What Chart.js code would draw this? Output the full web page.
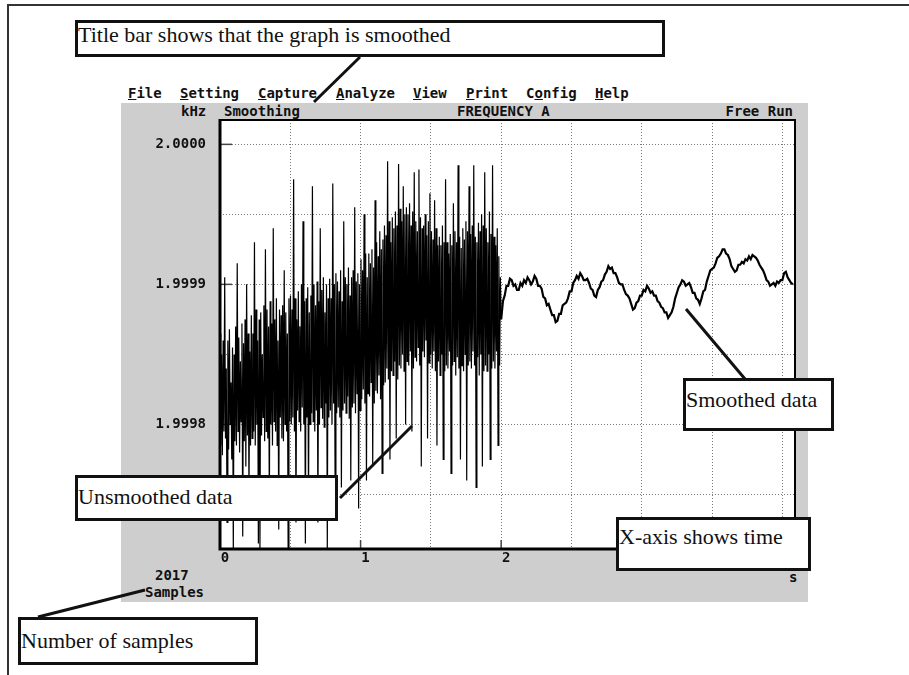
<!DOCTYPE html>
<html>
<head>
<meta charset="utf-8">
<script src="https://cdn.jsdelivr.net/npm/chart.js@4.4.1/dist/chart.umd.min.js"></script>
<style>
  body { margin: 0; background: #fff; }
  #page { position: relative; width: 909px; height: 675px; overflow: hidden; }
  .rule { position: absolute; background: #333; }
  #panel { position: absolute; left: 121px; top: 103px; width: 687px; height: 499px; background: #cecece; }
  .dos { position: absolute; font-family: 'DejaVu Sans Mono', monospace; font-size: 14px; line-height: 14px;
         font-weight: bold; color: #111; white-space: pre; }
  .u { text-decoration: underline; }
  canvas { position: absolute; left: 0; top: 0; }
  svg { position: absolute; left: 0; top: 0; }
  .note { position: absolute; background: #fff; border: 3px solid #111; box-sizing: border-box;
          font-family: 'Liberation Serif', 'Times New Roman', serif; font-size: 22px; line-height: 24px;
          color: #111; white-space: nowrap; }
</style>
</head>
<body>
<div id="page">
  <div class="rule" style="left:8px;top:4px;width:901px;height:2px"></div>
  <div class="rule" style="left:7px;top:4px;width:2px;height:671px"></div>
  <div id="panel"></div>

  <div class="dos" style="left:128px;top:86px"><span class="u">F</span>ile</div>
  <div class="dos" style="left:180px;top:86px"><span class="u">S</span>etting</div>
  <div class="dos" style="left:258px;top:86px"><span class="u">C</span>apture</div>
  <div class="dos" style="left:336px;top:86px"><span class="u">A</span>nalyze</div>
  <div class="dos" style="left:413px;top:86px"><span class="u">V</span>iew</div>
  <div class="dos" style="left:466px;top:86px"><span class="u">P</span>rint</div>
  <div class="dos" style="left:526px;top:86px">C<span class="u">o</span>nfig</div>
  <div class="dos" style="left:595px;top:86px"><span class="u">H</span>elp</div>

  <div class="dos" style="left:181px;top:104px">kHz</div>
  <div class="dos" style="left:224px;top:104px">Smoothing</div>
  <div class="dos" style="left:457px;top:104px">FREQUENCY A</div>
  <div class="dos" style="right:116px;top:104px">Free Run</div>

  <div class="dos" style="left:155px;top:568px">2017</div>
  <div class="dos" style="left:145px;top:585px">Samples</div>
  <div class="dos" style="left:789px;top:570px">s</div>

  <canvas id="scope" width="909" height="675"></canvas>

  <svg width="909" height="675">
    <g stroke="#111" stroke-width="3">
      <line x1="360" y1="57" x2="314" y2="102"/>
      <line x1="686" y1="309" x2="745" y2="379"/>
      <line x1="340" y1="498" x2="412" y2="426"/>
      <line x1="145" y1="590" x2="38" y2="617"/>
    </g>
  </svg>

  <div class="note" style="left:75px;top:20px;width:590px;height:37px">Title bar shows that the graph is smoothed</div>
  <div class="note" style="left:683px;top:378px;width:151px;height:53px;padding-top:7px">Smoothed data</div>
  <div class="note" style="left:75px;top:475px;width:263px;height:46px;padding-top:7px">Unsmoothed data</div>
  <div class="note" style="left:616px;top:517px;width:195px;height:54px;padding-top:5px">X-axis shows time</div>
  <div class="note" style="left:18px;top:617px;width:240px;height:48px;padding-top:9px">Number of samples</div>
</div>

<script>
// frequency readings, given as offset from 2 kHz in mHz (1 mHz = 0.000001 kHz)
const baseKHz = 2.0;

// raw readings, 0 s .. 2 s
const unsmoothedOffsetMilliHz = [
  -135, -215, -150, -222, -140, -205, -95, -210, -160, -270,
  -140, -218, -132, -200, -170, -225, -145, -290, -150, -212,
  -130, -215, -85, -205, -138, -220, -155, -198, -128, -280,
  -142, -212, -125, -230, -100, -208, -135, -250, -148, -215,
  -122, -210, -135, -205, -70, -215, -118, -200, -140, -285,
  -125, -290, -120, -208, -150, -195, -115, -212, -75, -205,
  -118, -210, -130, -260, -112, -200, -128, -215, -60, -198,
  -125, -205, -110, -215, -140, -275, -118, -195, -122, -210,
  -115, -212, -90, -200, -120, -205, -135, -290, -110, -198,
  -108, -200, -118, -195, -25, -205, -110, -270, -125, -190,
  -105, -198, -130, -205, -100, -188, -55, -200, -112, -285,
  -110, -195, -102, -260, -120, -200, -108, -192, -30, -198,
  -100, -205, -115, -190, -98, -270, -112, -200, -60, -188,
  -104, -196, -95, -202, -120, -185, -100, -290, -110, -195,
  -96, -190, -110, -200, -28, -185, -100, -250, -92, -192,
  -98, -188, -105, -195, -90, -245, -112, -190, -55, -185,
  -95, -192, -100, -180, -88, -196, -108, -240, -95, -188,
  -90, -185, -45, -192, -98, -178, -92, -260, -100, -190,
  -82, -182, -90, -175, -50, -185, -78, -240, -95, -178,
  -78, -180, -85, -170, -75, -230, -88, -185, -40, -176,
  -70, -178, -80, -165, -62, -182, -75, -235, -68, -172,
  -58, -170, -65, -160, -12, -168, -55, -225, -70, -162,
  -52, -165, -60, -155, -48, -210, -58, -168, -14, -158,
  -46, -160, -55, -150, -30, -162, -50, -200, -45, -155,
  -50, -158, -42, -148, -58, -205, -48, -160, -20, -152,
  -55, -155, -62, -145, -18, -158, -52, -230, -60, -148,
  -58, -152, -50, -140, -65, -210, -55, -156, -35, -150,
  -62, -160, -68, -148, -40, -162, -60, -215, -72, -155,
  -66, -165, -72, -150, -58, -225, -70, -162, -25, -158,
  -70, -160, -78, -148, -64, -235, -72, -158, -42, -155,
  -62, -165, -70, -152, -15, -160, -66, -225, -74, -158,
  -60, -162, -68, -150, -55, -240, -62, -158, -30, -155,
  -64, -160, -58, -148, -15, -158, -66, -245, -70, -152,
  -56, -165, -62, -150, -50, -230, -58, -162, -20, -158,
  -60, -162, -70, -150, -48, -225, -64, -160, -15, -155,
  -66, -160, -72, -148, -60, -215, -80, -158, -95, -125
];
const unsmoothedStart = 0;     // s
const unsmoothedEnd = 2;       // s

// smoothed readings from 2 s on, one every 12.5 ms
const smoothedStart = 2;       // s
const smoothedStep = 0.0125;   // s
const smoothedOffsetMilliHz = [
  -125, -112, -108, -101, -101, -96, -97, -101, -100, -104,
  -104, -99, -101, -97, -99, -95, -97, -100, -98, -94,
  -96, -101, -101, -103, -109, -110, -115, -114, -118, -122,
  -122, -127, -126, -121, -121, -115, -114, -113, -110, -105,
  -105, -99, -97, -94, -96, -92, -94, -97, -97, -96,
  -99, -103, -104, -108, -109, -104, -102, -98, -97, -93,
  -91, -87, -89, -88, -92, -92, -95, -99, -100, -100,
  -104, -107, -108, -110, -114, -118, -117, -113, -112, -108,
  -108, -104, -105, -101, -103, -106, -105, -108, -108, -112,
  -113, -116, -117, -120, -120, -124, -122, -120, -116, -110,
  -106, -102, -100, -97, -98, -101, -100, -99, -102, -106,
  -106, -110, -111, -114, -110, -105, -104, -98, -94, -90,
  -89, -88, -85, -81, -80, -78, -75, -75, -78, -79,
  -82, -87, -89, -91, -90, -86, -86, -84, -85, -82,
  -83, -80, -82, -79, -80, -81, -83, -86, -88, -90,
  -93, -97, -98, -101, -100, -99, -101, -98, -99, -97,
  -97, -92, -91, -95, -97, -99, -100
];

// axes
const xMaxSeconds = 4.09;
const xGridSeconds = [0, 0.5, 1, 1.5, 2, 2.5, 3, 3.5, 4];
const yMinKHz = 1.999711;
const yMaxKHz = 2.0000174;
const yGridKHz = [2.0000, 1.99995, 1.9999, 1.99985, 1.9998, 1.99975];
const yLabelKHz = [2.0000, 1.9999, 1.9998];

const toKHz = off => baseKHz + off / 1e6;
const dtRaw = (unsmoothedEnd - unsmoothedStart) / (unsmoothedOffsetMilliHz.length - 1);
const rawPoints = unsmoothedOffsetMilliHz.map((off, i) => ({ x: unsmoothedStart + i * dtRaw, y: toKHz(off) }));
const smoothPoints = smoothedOffsetMilliHz.map((off, i) => ({ x: smoothedStart + i * smoothedStep, y: toKHz(off) }));

const dosFont = { family: "'DejaVu Sans Mono', monospace", size: 14, weight: 'bold' };

const scopeFrame = {
  id: 'scopeFrame',
  beforeDraw(chart) {
    const { ctx, chartArea: a } = chart;
    ctx.save();
    ctx.fillStyle = '#fff';
    ctx.fillRect(a.left, a.top, a.right - a.left, a.bottom - a.top);
    ctx.restore();
  },
  beforeDatasetsDraw(chart) {
    const { ctx, chartArea: a, scales: { x, y } } = chart;
    ctx.save();
    ctx.strokeStyle = '#444';
    ctx.lineWidth = 1.5;
    yLabelKHz.forEach(v => {
      const py = y.getPixelForValue(v);
      ctx.beginPath(); ctx.moveTo(a.left, py); ctx.lineTo(a.left + 12, py); ctx.stroke();
    });
    [1, 2, 3, 4].forEach(v => {
      const px = x.getPixelForValue(v);
      ctx.beginPath(); ctx.moveTo(px, a.bottom); ctx.lineTo(px, a.bottom - 9); ctx.stroke();
    });
    ctx.restore();
  },
  afterDatasetsDraw(chart) {
    const { ctx, chartArea: a } = chart;
    ctx.save();
    ctx.strokeStyle = '#000';
    ctx.lineWidth = 2;
    ctx.beginPath();
    ctx.moveTo(a.left, a.top); ctx.lineTo(a.right, a.top); ctx.lineTo(a.right, a.bottom);
    ctx.stroke();
    ctx.lineWidth = 3;
    ctx.beginPath();
    ctx.moveTo(a.left, a.top - 1); ctx.lineTo(a.left, a.bottom); ctx.lineTo(a.right + 1, a.bottom);
    ctx.stroke();
    ctx.restore();
  }
};

new Chart(document.getElementById('scope').getContext('2d'), {
  type: 'line',
  data: {
    datasets: [{
      label: 'Unsmoothed',
      data: rawPoints,
      borderColor: '#000',
      borderWidth: 1.2,
      pointRadius: 0,
      tension: 0
    }, {
      label: 'Smoothed',
      data: smoothPoints,
      borderColor: '#000',
      borderWidth: 2.2,
      pointRadius: 0,
      tension: 0
    }]
  },
  options: {
    responsive: false,
    animation: false,
    devicePixelRatio: 1,
    layout: { padding: { left: 120, top: 120, right: 114, bottom: 96 } },
    plugins: { legend: { display: false }, tooltip: { enabled: false } },
    scales: {
      x: {
        type: 'linear',
        min: 0,
        max: xMaxSeconds,
        afterBuildTicks: s => { s.ticks = xGridSeconds.map(v => ({ value: v })); },
        afterFit: s => { s.height = 30; },
        grid: { color: '#7a7a7a', lineWidth: 1, drawTicks: false },
        border: { display: false, dash: [1, 2] },
        ticks: {
          autoSkip: false,
          maxRotation: 0,
          padding: 1,
          labelOffset: 5,
          color: '#111',
          font: dosFont,
          callback: v => Number.isInteger(v) ? String(v) : ''
        }
      },
      y: {
        min: yMinKHz,
        max: yMaxKHz,
        afterBuildTicks: s => { s.ticks = yGridKHz.map(v => ({ value: v })); },
        afterFit: s => { s.width = 100; },
        grid: { color: '#7a7a7a', lineWidth: 1, drawTicks: false },
        border: { display: false, dash: [1, 2] },
        ticks: {
          padding: 14,
          color: '#111',
          font: dosFont,
          callback: v => yLabelKHz.some(l => Math.abs(l - v) < 1e-9) ? v.toFixed(4) : ''
        }
      }
    }
  },
  plugins: [scopeFrame]
});
</script>
</body>
</html>
